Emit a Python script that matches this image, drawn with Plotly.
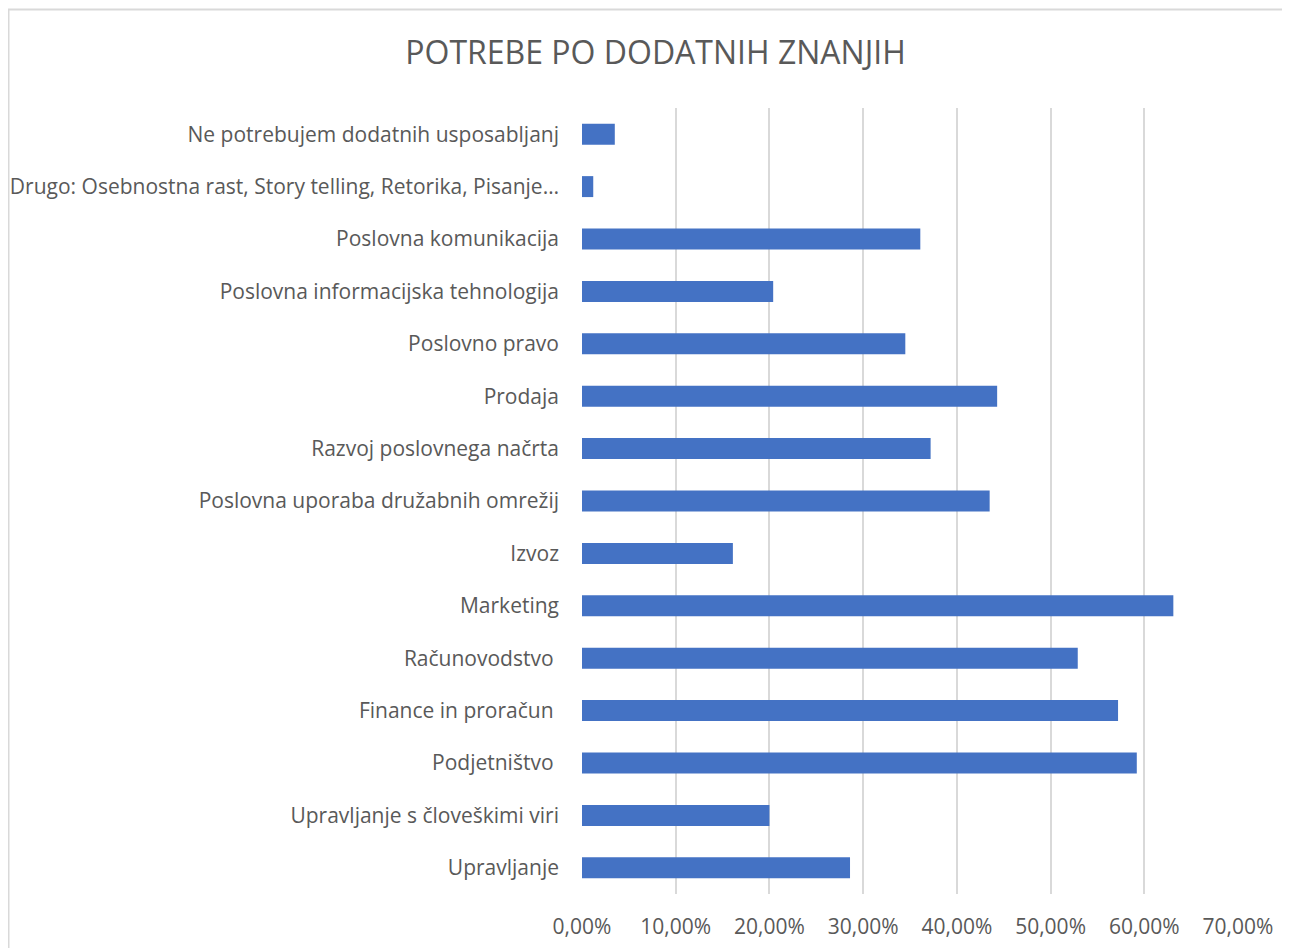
import plotly.graph_objects as go

categories = [
    "Upravljanje",
    "Upravljanje s človeškimi viri",
    "Podjetništvo\u00a0",
    "Finance in proračun\u00a0",
    "Računovodstvo\u00a0",
    "Marketing",
    "Izvoz",
    "Poslovna uporaba družabnih omrežij",
    "Razvoj poslovnega načrta",
    "Prodaja",
    "Poslovno pravo",
    "Poslovna informacijska tehnologija",
    "Poslovna komunikacija",
    "Drugo: Osebnostna rast, Story telling, Retorika, Pisanje…",
    "Ne potrebujem dodatnih usposabljanj",
]
values = [0.286, 0.200, 0.592, 0.572, 0.529, 0.631, 0.161, 0.435, 0.372, 0.443, 0.345, 0.204, 0.361, 0.012, 0.035]
tick_vals = [0, 0.1, 0.2, 0.3, 0.4, 0.5, 0.6, 0.7]
tick_text = ["0,00%", "10,00%", "20,00%", "30,00%", "40,00%", "50,00%", "60,00%", "70,00%"]

FONT = "Open Sans, Segoe UI, sans-serif"
TXT = "#595959"

W, H = 1282, 940
L, R, T, B = 574, 52, 100, 54
PW, PH = W - L - R, H - T - B

fig = go.Figure(go.Bar(
    x=values, y=categories, orientation="h",
    marker=dict(color="#4472C4", line=dict(width=0)),
    hoverinfo="x+y",
))

fig.update_layout(
    width=W, height=H,
    margin=dict(l=L, r=R, t=T, b=B, autoexpand=False),
    paper_bgcolor="white", plot_bgcolor="white",
    bargap=0.6,
    showlegend=False,
    title=dict(text="POTREBE PO DODATNIH ZNANJIH", x=(655.5 - 8) / W, xref="container", xanchor="center",
               y=1 - 45 / H, yref="container", yanchor="middle",
               font=dict(family=FONT, size=32, color=TXT)),
    font=dict(family=FONT, size=21, color=TXT),
    xaxis=dict(range=[0, 0.7], tickvals=tick_vals, ticktext=tick_text,
               showgrid=True, gridcolor="#d9d9d9", gridwidth=1.5,
               zeroline=False, showline=False, ticks="", automargin=False,
               ticklabelstandoff=18,
               tickfont=dict(family=FONT, size=21, color=TXT)),
    yaxis=dict(showgrid=False, zeroline=False, showline=False, ticks="", automargin=False,
               ticklabelstandoff=22,
               tickfont=dict(family=FONT, size=21, color=TXT)),
    shapes=[dict(type="rect", xref="paper", yref="paper",
                 x0=(0.5 - L) / PW, x1=(W + 20 - L) / PW,
                 y0=(T + PH - (H + 20)) / PH, y1=(T + PH - 1.5) / PH,
                 line=dict(color="#d9d9d9", width=2), fillcolor="rgba(0,0,0,0)", layer="below")],
)

fig.write_html("out.html")
